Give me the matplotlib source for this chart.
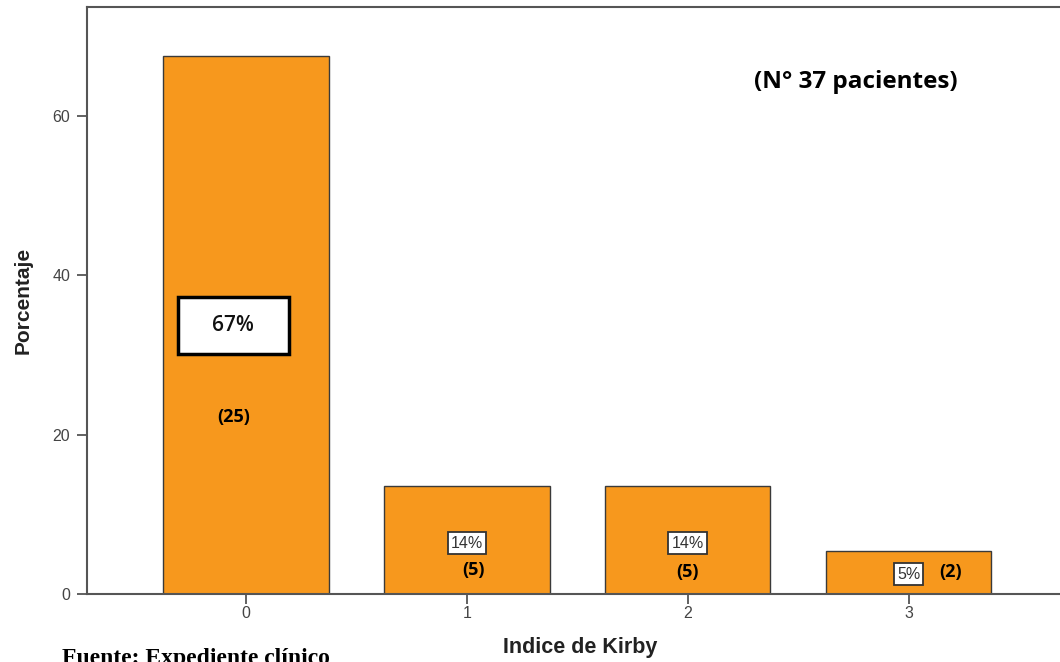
import matplotlib
matplotlib.use("Agg")
import matplotlib.pyplot as plt
from matplotlib.patches import Rectangle

# data
categorias = ["0", "1", "2", "3"]
porcentajes = [67.5, 13.5, 13.5, 5.4]
etiquetas_pct = ["67%", "14%", "14%", "5%"]
pacientes = ["(25)", "(5)", "(5)", "(2)"]
yticks = [0, 20, 40, 60]

naranja = "#F7981D"
gris = "#555555"

fig = plt.figure(figsize=(10.6, 6.62), dpi=100)
ax = fig.add_axes([87 / 1060, 1 - 594 / 662, 1.0, 587 / 662])

x = list(range(len(categorias)))
ax.bar(x, porcentajes, width=0.75, color=naranja, edgecolor="#3a3a3a", linewidth=1.0, zorder=2)

ax.set_xlim(-0.72, 4.08)
ax.set_ylim(0, 73.7)
ax.set_xticks(x)
ax.set_xticklabels(categorias)
ax.set_yticks(yticks)

for side in ["left", "bottom", "top", "right"]:
    ax.spines[side].set_color(gris)
    ax.spines[side].set_linewidth(1.5)

ax.tick_params(axis="both", colors=gris, labelcolor="#444444", labelsize=11.5,
               length=7, width=1.3, direction="out", pad=5)
ax.tick_params(axis="x", pad=2)
for lab in ax.get_xticklabels() + ax.get_yticklabels():
    lab.set_family("Liberation Sans")

ax.set_ylabel("Porcentaje", fontsize=15, fontweight="bold", family="Liberation Sans",
              color="#222222")
ax.yaxis.set_label_coords(33 / 1060, 1 - 300 / 662, transform=fig.transFigure)
ax.set_xlabel("Indice de Kirby", fontsize=15.5, fontweight="bold", family="Liberation Sans",
              color="#222222")
ax.xaxis.set_label_coords(580 / 1060, 1 - 637 / 662, transform=fig.transFigure)

# big box for 67%
ax.add_patch(Rectangle((-0.057 - 0.25, 30.1), 0.50, 7.2, facecolor="white",
                       edgecolor="black", linewidth=2.5, zorder=3))
ax.text(-0.057, 33.7, etiquetas_pct[0], ha="center", va="center", fontsize=15,
        fontweight="semibold", family="Open Sans", color="#111111", zorder=4)
ax.text(-0.057, 22.2, pacientes[0], ha="center", va="center", fontsize=13,
        fontweight="bold", family="Open Sans", color="black", zorder=4)

# small boxes
pct_pos = [(1.0, 6.4), (2.0, 6.4), (3.0, 2.5)]
n_pos = [(1.03, 3.0), (2.0, 2.8), (3.19, 2.8)]
for i in range(1, 4):
    px, py = pct_pos[i - 1]
    ax.text(px, py, etiquetas_pct[i], ha="center", va="center", fontsize=11.5,
            family="Liberation Sans", color="#333333", zorder=4,
            bbox=dict(boxstyle="square,pad=0.2", facecolor="white",
                      edgecolor="#333333", linewidth=1.3))
    nx, ny = n_pos[i - 1]
    ax.text(nx, ny, pacientes[i], ha="center", va="center", fontsize=13,
            fontweight="bold", family="Open Sans", color="black", zorder=4)

ax.text(2.76, 64.3, "(N° 37 pacientes)", ha="center", va="center", fontsize=17.5,
        fontweight="bold", family="Open Sans", color="black")

fig.text(62 / 1060, 1 - 648 / 662, "Fuente: Expediente clínico", ha="left", va="top",
         fontsize=17, fontweight="bold", family="Liberation Serif", color="black")

fig.savefig("out.png", dpi=100)
